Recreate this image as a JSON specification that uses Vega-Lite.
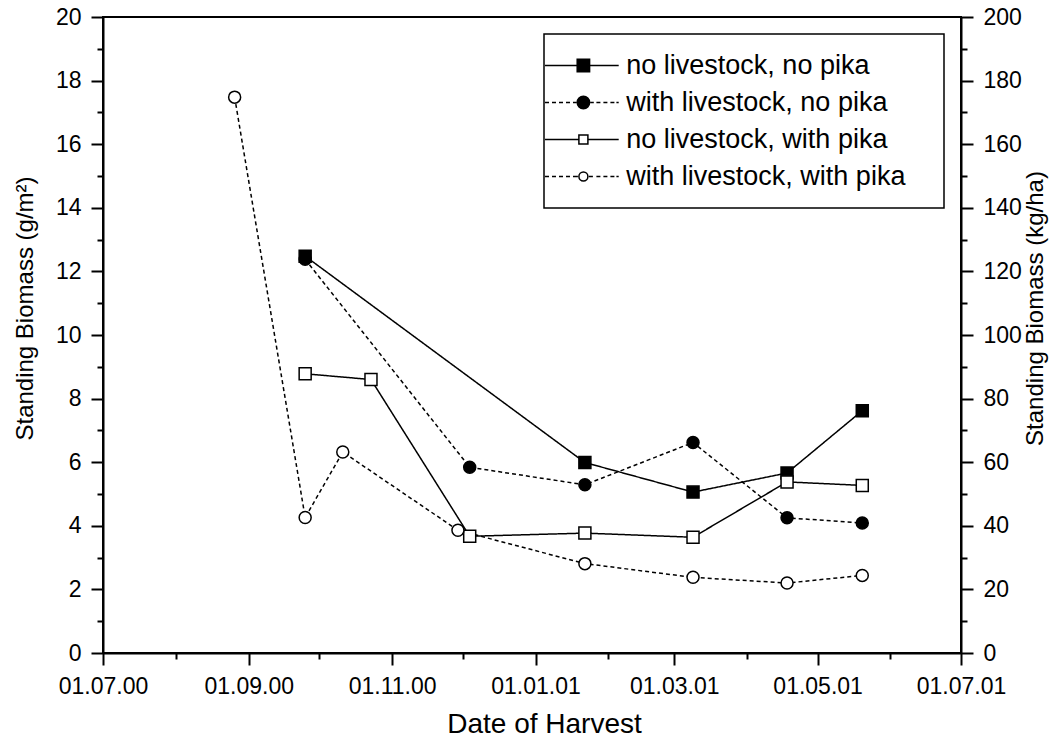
{
  "$schema": "https://vega.github.io/schema/vega-lite/v6.json",
  "width": 858,
  "height": 636,
  "autosize": {"type": "none"},
  "padding": {"left": 103, "top": 17, "right": 103, "bottom": 87},
  "background": "white",
  "data": {
    "values": [
      {"series": "no livestock, no pika", "date": "2000-09-25", "value": 12.48},
      {"series": "no livestock, no pika", "date": "2001-01-22", "value": 5.99},
      {"series": "no livestock, no pika", "date": "2001-03-09", "value": 5.06},
      {"series": "no livestock, no pika", "date": "2001-04-18", "value": 5.66},
      {"series": "no livestock, no pika", "date": "2001-05-20", "value": 7.62},
      {"series": "with livestock, no pika", "date": "2000-09-25", "value": 12.38},
      {"series": "with livestock, no pika", "date": "2000-12-04", "value": 5.84},
      {"series": "with livestock, no pika", "date": "2001-01-22", "value": 5.29},
      {"series": "with livestock, no pika", "date": "2001-03-09", "value": 6.62},
      {"series": "with livestock, no pika", "date": "2001-04-18", "value": 4.25},
      {"series": "with livestock, no pika", "date": "2001-05-20", "value": 4.09},
      {"series": "no livestock, with pika", "date": "2000-09-25", "value": 8.78},
      {"series": "no livestock, with pika", "date": "2000-10-23", "value": 8.6},
      {"series": "no livestock, with pika", "date": "2000-12-04", "value": 3.67},
      {"series": "no livestock, with pika", "date": "2001-01-22", "value": 3.77},
      {"series": "no livestock, with pika", "date": "2001-03-09", "value": 3.64},
      {"series": "no livestock, with pika", "date": "2001-04-18", "value": 5.38},
      {"series": "no livestock, with pika", "date": "2001-05-20", "value": 5.27},
      {"series": "with livestock, with pika", "date": "2000-08-26", "value": 17.48},
      {"series": "with livestock, with pika", "date": "2000-09-25", "value": 4.26},
      {"series": "with livestock, with pika", "date": "2000-10-11", "value": 6.32},
      {"series": "with livestock, with pika", "date": "2000-11-29", "value": 3.86},
      {"series": "with livestock, with pika", "date": "2001-01-22", "value": 2.81},
      {"series": "with livestock, with pika", "date": "2001-03-09", "value": 2.38},
      {"series": "with livestock, with pika", "date": "2001-04-18", "value": 2.2},
      {"series": "with livestock, with pika", "date": "2001-05-20", "value": 2.44}
    ]
  },
  "layer": [
    {
      "mark": {"type": "line", "strokeWidth": 1.5, "color": "black"},
      "encoding": {
        "x": {
          "field": "date", "type": "temporal", "title": "Date of Harvest",
          "scale": {"type": "utc", "nice": false, "domain": [{"year": 2000, "month": 7, "date": 1, "utc": true}, {"year": 2001, "month": 7, "date": 1, "utc": true}]},
          "axis": {
            "orient": "bottom",
            "values": [
              {"year": 2000, "month": 7, "date": 1, "utc": true},
              {"year": 2000, "month": 9, "date": 1, "utc": true},
              {"year": 2000, "month": 11, "date": 1, "utc": true},
              {"year": 2001, "month": 1, "date": 1, "utc": true},
              {"year": 2001, "month": 3, "date": 1, "utc": true},
              {"year": 2001, "month": 5, "date": 1, "utc": true},
              {"year": 2001, "month": 7, "date": 1, "utc": true}
            ],
            "format": "%d.%m.%y",
            "tickSize": 12,
            "labelPadding": 10,
            "titleFontSize": 28,
            "titleX": 441,
            "titleY": 71,
            "titleAlign": "center",
            "titleBaseline": "middle"
          }
        },
        "y": {
          "field": "value", "type": "quantitative", "title": "Standing Biomass (g/m²)",
          "scale": {"domain": [0, 20], "nice": false},
          "axis": {
            "orient": "left",
            "values": [0, 2, 4, 6, 8, 10, 12, 14, 16, 18, 20],
            "tickSize": 12,
            "labelPadding": 10,
            "titleFontSize": 24,
            "titleX": -78,
            "titleY": 291,
            "titleAngle": 270,
            "titleAlign": "center",
            "titleBaseline": "middle"
          }
        },
        "detail": {"field": "series", "type": "nominal"},
        "strokeDash": {
          "field": "series", "type": "nominal", "legend": null,
          "scale": {
            "domain": ["no livestock, no pika", "with livestock, no pika", "no livestock, with pika", "with livestock, with pika"],
            "range": [[1, 0], [4, 3], [1, 0], [4, 3]]
          }
        }
      }
    },
    {
      "transform": [{"filter": {"field": "series", "oneOf": ["no livestock, no pika", "no livestock, with pika"]}}],
      "mark": {"type": "point", "shape": "square", "filled": true, "stroke": "black", "strokeWidth": 1.5, "size": 144, "opacity": 1},
      "encoding": {
        "x": {
          "field": "date", "type": "temporal",
          "scale": {"type": "utc", "nice": false, "domain": [{"year": 2000, "month": 7, "date": 1, "utc": true}, {"year": 2001, "month": 7, "date": 1, "utc": true}]},
          "axis": null
        },
        "y": {"field": "value", "type": "quantitative", "scale": {"domain": [0, 20], "nice": false}, "axis": null},
        "fill": {
          "field": "series", "type": "nominal", "legend": null,
          "scale": {
            "domain": ["no livestock, no pika", "with livestock, no pika", "no livestock, with pika", "with livestock, with pika"],
            "range": ["black", "black", "white", "white"]
          }
        }
      }
    },
    {
      "transform": [{"filter": {"field": "series", "oneOf": ["with livestock, no pika", "with livestock, with pika"]}}],
      "mark": {"type": "point", "shape": "circle", "filled": true, "stroke": "black", "strokeWidth": 1.5, "size": 144, "opacity": 1},
      "encoding": {
        "x": {
          "field": "date", "type": "temporal",
          "scale": {"type": "utc", "nice": false, "domain": [{"year": 2000, "month": 7, "date": 1, "utc": true}, {"year": 2001, "month": 7, "date": 1, "utc": true}]},
          "axis": null
        },
        "y": {"field": "value", "type": "quantitative", "scale": {"domain": [0, 20], "nice": false}, "axis": null},
        "fill": {
          "field": "series", "type": "nominal", "legend": null,
          "scale": {
            "domain": ["no livestock, no pika", "with livestock, no pika", "no livestock, with pika", "with livestock, with pika"],
            "range": ["black", "black", "white", "white"]
          }
        }
      }
    },
    {
      "mark": {"type": "point", "filled": true, "stroke": "black", "strokeWidth": 1.5, "opacity": 1, "clip": true},
      "encoding": {
        "x": {
          "field": "date", "type": "temporal",
          "scale": {"type": "utc", "nice": false, "domain": [{"year": 2000, "month": 7, "date": 1, "utc": true}, {"year": 2001, "month": 7, "date": 1, "utc": true}]},
          "axis": null
        },
        "y": {"field": "value", "type": "quantitative", "scale": {"domain": [1000, 2000], "nice": false, "zero": false}, "axis": null},
        "shape": {
          "field": "series", "type": "nominal",
          "legend": {
            "title": null, "labelLimit": 600,
            "encode": {"symbols": {"update": {"stroke": {"value": "black"}, "strokeWidth": {"value": 1.5}, "strokeOpacity": {"value": 1}}}}
          },
          "scale": {
            "domain": ["no livestock, no pika", "with livestock, no pika", "no livestock, with pika", "with livestock, with pika"],
            "range": [
              "M-3.84,0H-0.62M-0.62,-0.62H0.62V0.62H-0.62ZM0.62,0H3.53M33.9,0",
              "M-3.84,0H-3.44M-3.14,0H-2.74M-2.44,0H-2.04M-1.74,0H-1.34M-1.04,0H-0.7M0.62,0A0.62,0.62,0,1,1,-0.62,0A0.62,0.62,0,1,1,0.62,0ZM0.7,0H1.04M1.3,0H1.7M2.0,0H2.4M2.7,0H3.1M3.3,0H3.53M33.9,0",
              "M-3.84,0H-0.45M-0.45,-0.45H0.45V0.45H-0.45ZM0.45,0H3.53M33.9,0",
              "M-3.84,0H-3.44M-3.14,0H-2.74M-2.44,0H-2.04M-1.74,0H-1.34M-1.04,0H-0.55M0.45,0A0.45,0.45,0,1,1,-0.45,0A0.45,0.45,0,1,1,0.45,0ZM0.55,0H0.95M1.3,0H1.7M2.0,0H2.4M2.7,0H3.1M3.3,0H3.53M33.9,0"
            ]
          }
        },
        "fill": {
          "field": "series", "type": "nominal",
          "legend": {
            "title": null, "labelLimit": 600,
            "encode": {"symbols": {"update": {"stroke": {"value": "black"}, "strokeWidth": {"value": 1.5}, "strokeOpacity": {"value": 1}}}}
          },
          "scale": {
            "domain": ["no livestock, no pika", "with livestock, no pika", "no livestock, with pika", "with livestock, with pika"],
            "range": ["black", "black", "white", "white"]
          }
        }
      }
    },
    {
      "data": {"values": [{}]},
      "mark": {"type": "point", "opacity": 0},
      "encoding": {
        "x": {
          "datum": {"year": 2000, "month": 7, "date": 1, "utc": true}, "type": "temporal",
          "scale": {"type": "utc", "nice": false, "domain": [{"year": 2000, "month": 7, "date": 1, "utc": true}, {"year": 2001, "month": 7, "date": 1, "utc": true}]},
          "axis": {
            "orient": "bottom",
            "values": [
              {"year": 2000, "month": 8, "date": 1, "utc": true},
              {"year": 2000, "month": 10, "date": 1, "utc": true},
              {"year": 2000, "month": 12, "date": 1, "utc": true},
              {"year": 2001, "month": 2, "date": 1, "utc": true},
              {"year": 2001, "month": 4, "date": 1, "utc": true},
              {"year": 2001, "month": 6, "date": 1, "utc": true}
            ],
            "tickSize": 6, "labels": false, "domain": false, "title": null
          }
        },
        "y": {
          "datum": 0, "type": "quantitative",
          "scale": {"domain": [0, 20], "nice": false},
          "axis": {
            "orient": "left",
            "values": [1, 3, 5, 7, 9, 11, 13, 15, 17, 19],
            "tickSize": 6, "labels": false, "domain": false, "title": null
          }
        }
      }
    },
    {
      "data": {"values": [{}]},
      "mark": {"type": "point", "opacity": 0},
      "encoding": {
        "x": {
          "datum": {"year": 2000, "month": 7, "date": 1, "utc": true}, "type": "temporal",
          "scale": {"type": "utc", "nice": false, "domain": [{"year": 2000, "month": 7, "date": 1, "utc": true}, {"year": 2001, "month": 7, "date": 1, "utc": true}]},
          "axis": null
        },
        "y": {
          "datum": 0, "type": "quantitative",
          "scale": {"domain": [0, 200], "nice": false},
          "axis": {
            "orient": "right",
            "values": [0, 20, 40, 60, 80, 100, 120, 140, 160, 180, 200],
            "tickSize": 12,
            "labelPadding": 10,
            "title": "Standing Biomass (kg/ha)",
            "titleFontSize": 24,
            "titleX": 74,
            "titleY": 291,
            "titleAngle": 270,
            "titleAlign": "center",
            "titleBaseline": "middle"
          }
        }
      }
    },
    {
      "data": {"values": [{}]},
      "mark": {"type": "point", "opacity": 0},
      "encoding": {
        "x": {
          "datum": {"year": 2000, "month": 7, "date": 1, "utc": true}, "type": "temporal",
          "scale": {"type": "utc", "nice": false, "domain": [{"year": 2000, "month": 7, "date": 1, "utc": true}, {"year": 2001, "month": 7, "date": 1, "utc": true}]},
          "axis": null
        },
        "y": {
          "datum": 0, "type": "quantitative",
          "scale": {"domain": [0, 200], "nice": false},
          "axis": {
            "orient": "right",
            "values": [10, 30, 50, 70, 90, 110, 130, 150, 170, 190],
            "tickSize": 6, "labels": false, "domain": false, "title": null
          }
        }
      }
    }
  ],
  "resolve": {
    "scale": {"y": "independent", "fill": "independent", "shape": "independent"},
    "axis": {"x": "independent"}
  },
  "config": {
    "font": "Liberation Sans",
    "view": {"stroke": "black", "strokeWidth": 2},
    "axis": {
      "labelFont": "Liberation Sans", "titleFont": "Liberation Sans",
      "labelFontSize": 23, "titleFontSize": 24, "titleFontWeight": "normal",
      "labelColor": "black", "titleColor": "black", "tickColor": "black", "domainColor": "black",
      "tickWidth": 2, "domainWidth": 2, "grid": false, "labelFlush": false, "labelOverlap": false
    },
    "legend": {
      "orient": "top-right", "offset": 17, "padding": 18,
      "strokeColor": "black", "strokeWidth": 1.5,
      "labelFont": "Liberation Sans", "labelFontSize": 27, "labelColor": "black", "labelLimit": 600,
      "symbolSize": 400, "symbolStrokeWidth": 1.5, "symbolStrokeColor": "black", "symbolOpacity": 1,
      "symbolOffset": 7.9, "labelOffset": 29.4, "rowPadding": 9
    }
  }
}
